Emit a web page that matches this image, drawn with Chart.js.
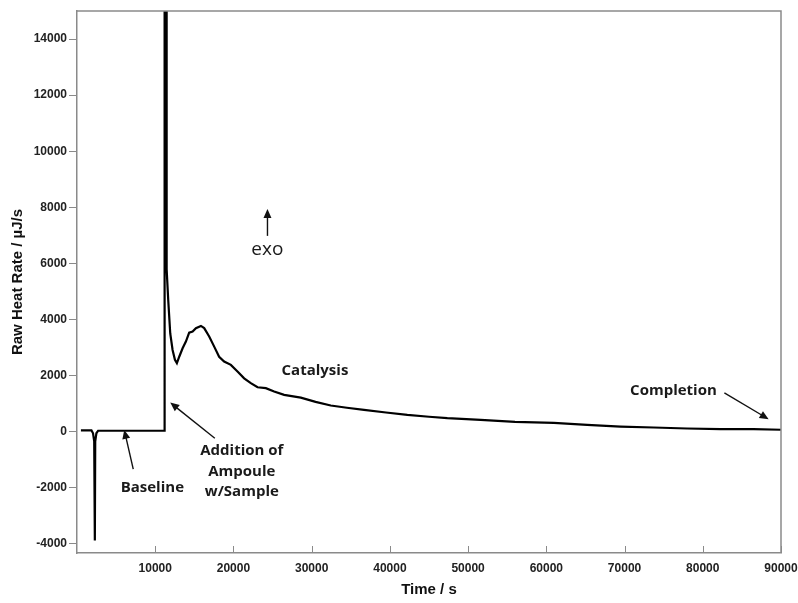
<!DOCTYPE html>
<html>
<head>
<meta charset="utf-8">
<script src="https://cdn.jsdelivr.net/npm/chart.js@4.4.1/dist/chart.umd.min.js"></script>
<style>
  html, body { margin: 0; padding: 0; background: #fff; }
  #wrap { width: 798px; height: 603px; }
</style>
</head>
<body>
<div id="wrap"><canvas id="chart" width="798" height="603"></canvas></div>
<script>
// Time (s) and raw heat rate (uJ/s)
var timeS = [500, 1850, 2050, 2200, 2280, 2330, 2480, 2700, 4000, 6000, 8000, 10000, 11200,
    11200, 11380, 11420, 11500, 11660, 11920, 12220, 12520, 12770, 13070, 13500, 13920,
    14340, 14780, 15200, 15840, 16260, 16900, 17540, 18170, 18810, 19670, 20520, 21370,
    22220, 23080, 24140, 25200, 26480, 28610, 30500, 32440, 34500, 36690, 39500, 42230,
    45000, 47340, 51600, 56000, 60960, 65220, 69480, 73730, 77990, 82250, 86500, 90000];
var heatRate = [40, 40, -60, -350, -3880, -350, -60, 30, 30, 30, 30, 30, 30,
    30000, 15000, 7500, 5800, 4700, 3500, 2910, 2560, 2440, 2670, 2970, 3210,
    3530, 3570, 3690, 3770, 3690, 3390, 3030, 2670, 2500, 2380, 2140, 1900,
    1730, 1580, 1550, 1430, 1310, 1210, 1060, 930, 850, 775, 680, 595,
    530, 480, 420, 350, 310, 240, 180, 145, 110, 90, 85, 65];

var yTicks = [-4000, -2000, 0, 2000, 4000, 6000, 8000, 10000, 12000, 14000];
var xTicks = [10000, 20000, 30000, 40000, 50000, 60000, 70000, 80000, 90000];

var points = timeS.map(function (t, i) { return { x: t, y: heatRate[i] }; });

var axisGrey = '#8a8a8a';
var tickFont = { family: 'Liberation Sans', size: 12, weight: 'bold' };
var titleFont = { family: 'Liberation Sans', size: 15, weight: 'bold' };

// frame, inward x ticks and the text notes with arrows
var notesPlugin = {
    id: 'notes',
    afterDraw: function (chart) {
        var ctx = chart.ctx;
        var a = chart.chartArea;
        var xs = chart.scales.x, ys = chart.scales.y;
        function px(t) { return xs.getPixelForValue(t); }
        function py(v) { return ys.getPixelForValue(v); }

        ctx.save();
        // top and right sides of the frame
        ctx.strokeStyle = axisGrey;
        ctx.lineWidth = 1.5;
        ctx.beginPath();
        ctx.moveTo(a.left, a.top);
        ctx.lineTo(a.right, a.top);
        ctx.lineTo(a.right, a.bottom);
        ctx.stroke();

        // x ticks point up into the plot
        ctx.lineWidth = 1;
        xTicks.forEach(function (t) {
            var x = Math.round(px(t)) + 0.5;
            ctx.beginPath();
            ctx.moveTo(x, a.bottom);
            ctx.lineTo(x, a.bottom - 7);
            ctx.stroke();
        });

        function arrow(t1, v1, t2, v2) {
            var x1 = px(t1), y1 = py(v1), x2 = px(t2), y2 = py(v2);
            var ang = Math.atan2(y2 - y1, x2 - x1);
            var head = 9, half = 4;
            ctx.strokeStyle = '#111';
            ctx.fillStyle = '#111';
            ctx.lineWidth = 1.4;
            ctx.beginPath();
            ctx.moveTo(x1, y1);
            ctx.lineTo(x2 - Math.cos(ang) * head * 0.8, y2 - Math.sin(ang) * head * 0.8);
            ctx.stroke();
            ctx.beginPath();
            ctx.moveTo(x2, y2);
            ctx.lineTo(x2 - Math.cos(ang) * head + Math.sin(ang) * half,
                       y2 - Math.sin(ang) * head - Math.cos(ang) * half);
            ctx.lineTo(x2 - Math.cos(ang) * head - Math.sin(ang) * half,
                       y2 - Math.sin(ang) * head + Math.cos(ang) * half);
            ctx.closePath();
            ctx.fill();
        }

        function label(text, t, v, font) {
            ctx.font = font;
            ctx.fillStyle = '#1a1a1a';
            ctx.textAlign = 'center';
            ctx.textBaseline = 'middle';
            ctx.fillText(text, px(t), py(v));
        }

        var bold = 'bold 15px "Open Sans"';
        label('exo', 24330, 6500, '19px "Open Sans"');
        arrow(24350, 6980, 24350, 7940);

        label('Catalysis', 30420, 2164, bold);

        label('Completion', 76250, 1462, bold);
        arrow(82760, 1380, 88420, 442);

        label('Baseline', 9630, -2007, bold);
        arrow(7190, -1340, 6040, 61);

        label('Addition of', 21070, -677, bold);
        label('Ampoule', 21070, -1426, bold);
        label('w/Sample', 21070, -2139, bold);
        arrow(17620, -235, 11920, 1034);

        ctx.restore();
    }
};

new Chart(document.getElementById('chart'), {
    type: 'line',
    data: {
        datasets: [{
            label: 'Raw heat rate',
            data: points,
            borderColor: '#000',
            borderWidth: 2.2,
            pointRadius: 0,
            tension: 0,
            fill: false
        }]
    },
    options: {
        responsive: false,
        animation: false,
        layout: { padding: { top: 11, right: 0, left: 0, bottom: 0 } },
        plugins: {
            legend: { display: false },
            tooltip: { enabled: false }
        },
        scales: {
            x: {
                type: 'linear',
                min: 0,
                max: 90000,
                afterFit: function (s) { s.height = 50; s.paddingRight = 17; },
                afterBuildTicks: function (s) {
                    s.ticks = xTicks.map(function (v) { return { value: v }; });
                },
                grid: { drawOnChartArea: false, drawTicks: false },
                border: { display: true, color: axisGrey, width: 1.5 },
                ticks: {
                    font: tickFont,
                    color: '#222',
                    padding: 8,
                    maxRotation: 0,
                    callback: function (v) { return String(v); }
                },
                title: {
                    display: true,
                    text: 'Time / s',
                    font: titleFont,
                    color: '#111',
                    padding: { top: 0, bottom: 4 }
                }
            },
            y: {
                min: -4330,
                max: 15000,
                afterFit: function (s) { s.width = 77; },
                afterBuildTicks: function (s) {
                    s.ticks = yTicks.map(function (v) { return { value: v }; });
                },
                grid: { drawOnChartArea: false, drawTicks: true, tickLength: 8, color: axisGrey },
                border: { display: true, color: axisGrey, width: 1.5 },
                ticks: {
                    font: tickFont,
                    color: '#222',
                    padding: 2,
                    callback: function (v) { return String(v); }
                },
                title: {
                    display: true,
                    text: 'Raw Heat Rate / µJ/s',
                    font: titleFont,
                    color: '#111',
                    padding: { top: 9, bottom: 0 }
                }
            }
        }
    },
    plugins: [notesPlugin]
});
</script>
</body>
</html>
